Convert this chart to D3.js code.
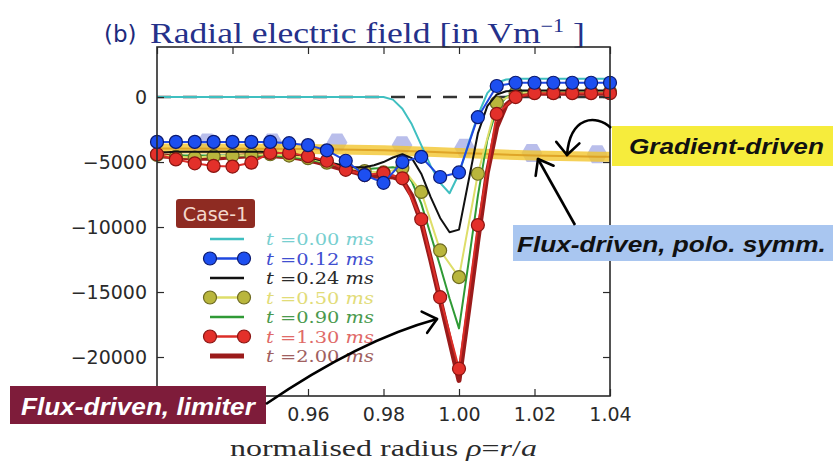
<!DOCTYPE html>
<html>
<head>
<meta charset="utf-8">
<script src="https://cdn.jsdelivr.net/npm/d3@7"></script>
<style>
  body { margin: 0; background: #fff; }
  svg { display: block; }
</style>
</head>
<body>
<svg id="chart" width="833" height="469"></svg>
<script>
// ---- radial grid (normalised radius) ----
const rhoFine = [0.92,0.9225,0.925,0.9275,0.93,0.9325,0.935,0.9375,0.94,0.9425,0.945,0.9475,0.95,0.9525,0.955,0.9575,
  0.96,0.9625,0.965,0.9675,0.97,0.9725,0.975,0.9775,0.98,0.9825,0.985,0.9875,0.99,0.9925,0.995,0.9975,
  1.00,1.0025,1.005,1.0075,1.01,1.0125,1.015,1.0175,1.02,1.0225,1.025,1.0275,1.03,1.0325,1.035,1.0375,1.04];
const rhoCoarse = [0.92,0.925,0.93,0.935,0.94,0.945,0.95,0.955,0.96,0.965,0.97,0.975,0.98,0.985,0.99,0.995,
  1.00,1.005,1.01,1.015,1.02,1.025,1.03,1.035,1.04];

// ---- radial electric field [V/m] per time slice ----
const er000 = [0,0,0,0,0,0,0,0,0,0,0,0,0,0,0,0,0,0,0,0,0,0,0,0,0,
  -200,-900,-2100,-3700,-5300,-6600,-7400,-5900,-3600,-1400,300,1100,1350,
  1400,1400,1400,1400,1400,1400,1400,1400,1400,1400,1400];
const er012 = [-3450,-3450,-3450,-3450,-3450,-3450,-3450,-3550,-3700,-4100,-4900,-6000,-6600,-5000,-4600,-6150,
  -5800,-1550,850,1100,1100,1100,1100,1100,1100];
const er024 = [-4250,-4250,-4200,-4200,-4200,-4200,-4200,-4200,-4200,-4200,-4200,-4200,-4250,-4300,-4350,
  -4450,-4600,-4800,-5000,-5150,-5300,-5400,-5400,-5250,-5000,-4650,-4400,-4700,-5900,-7700,-9300,-10400,
  -10200,-6500,-2800,-700,200,450,
  500,500,500,500,500,500,500,500,500,500,500];
const er050 = [-4450,-4600,-4650,-4550,-4500,-4450,-4400,-4500,-4700,-5050,-5350,-5700,-5800,-5450,-7300,-11800,
  -13850,-5900,-450,300,400,400,400,400,400];
const er090 = [-4600,-4550,-4500,-4500,-4500,-4500,-4500,-4500,-4500,-4500,-4500,-4500,-4500,-4550,-4600,
  -4700,-4800,-4950,-5100,-5250,-5400,-5500,-5550,-5500,-5450,-5400,-5600,-6500,-8200,-10600,-13000,-15500,
  -17800,-12800,-7600,-3300,-900,0,300,
  400,400,400,400,400,400,400,400,400,400];
const er130 = [-4400,-4800,-5100,-5300,-5350,-5050,-4300,-4300,-4550,-4900,-5600,-6000,-5850,-6250,-9400,-15400,
  -20900,-9850,-1300,0,300,300,300,300,300];
const er200 = [-4500,-4550,-4600,-4650,-4700,-4700,-4700,-4650,-4600,-4550,-4500,-4500,-4500,-4550,-4600,
  -4700,-4850,-5000,-5200,-5400,-5600,-5800,-6000,-6100,-6100,-6150,-6400,-7600,-9600,-12500,-15600,-18700,
  -21800,-16500,-11000,-5800,-2300,-600,0,200,
  300,300,300,300,300,300,300,300,300];

// gradient-driven run and poloidally symmetric flux-driven run
const rhoGradient = [0.92, 0.96, 0.98, 1.00, 1.02, 1.04];
const erGradient = [-3950, -4000, -4100, -4300, -4500, -4600];
const rhoPolo = [0.9333, 0.9505, 0.9677, 0.9849, 1.0015, 1.0193, 1.0366];
const erPolo = [-3500, -3500, -3500, -3700, -3900, -4300, -4400];

// ---- tick labels (the two leftmost sit under the limiter tag) ----
const xTicks = [0.92, 0.94, 0.96, 0.98, 1.00, 1.02, 1.04];
const xTickLabels = ["", "", "0.96", "0.98", "1.00", "1.02", "1.04"];
const yTicks = [-20000, -15000, -10000, -5000, 0];
const legendLabels = ["0.00", "0.12", "0.24", "0.50", "0.90", "1.30", "2.00"];

// ---- series styling ----
const series = [
  { label: legendLabels[0], rho: rhoFine,   er: er000, color: "#3fbfc0", width: 2,   marker: false, text: "#78cfd0" },
  { label: legendLabels[1], rho: rhoCoarse, er: er012, color: "#1f48e0", width: 2,   marker: true,  fill: "#1d4ff0", edge: "#0b1a70", text: "#3f4fd0" },
  { label: legendLabels[2], rho: rhoFine,   er: er024, color: "#111111", width: 2,   marker: false, text: "#2a2a2a" },
  { label: legendLabels[3], rho: rhoCoarse, er: er050, color: "#dede6a", width: 2,   marker: true,  fill: "#b9b63c", edge: "#6d6a20", text: "#e2dc78" },
  { label: legendLabels[4], rho: rhoFine,   er: er090, color: "#2f9a35", width: 2,   marker: false, text: "#4a9a4e" },
  { label: legendLabels[5], rho: rhoCoarse, er: er130, color: "#dc2e28", width: 2,   marker: true,  fill: "#e3302a", edge: "#8a1512", text: "#e06a68" },
  { label: legendLabels[6], rho: rhoFine,   er: er200, color: "#9b1b1b", width: 5,   marker: false, text: "#a06060" }
];

const svg = d3.select("#chart");
const pL = 157, pR = 610, pT = 47, pB = 396;

const x = d3.scaleLinear().domain([0.92, 1.04]).range([pL, pR]);
const y = d3.scaleLinear().domain([-23000, 3850]).range([pB, pT]);

const clipId = "plotClip";
svg.append("defs").append("clipPath").attr("id", clipId)
  .append("rect").attr("x", pL - 10).attr("y", pT).attr("width", pR - pL + 20).attr("height", pB - pT);

function fitWidth(sel, x0, target) {
  const w = sel.node().getComputedTextLength();
  sel.attr("transform", `translate(${x0},0) scale(${target / w},1) translate(${-x0},0)`);
}

// ---- title ----
svg.append("text").attr("x", 104).attr("y", 42)
  .attr("font-family", "DejaVu Sans, sans-serif").attr("font-size", 23).attr("fill", "#1d2a7c")
  .text("(b)");
const title = svg.append("text").attr("x", 150).attr("y", 43)
  .attr("font-family", "Liberation Serif, serif").attr("font-size", 29).attr("fill", "#25318a");
title.append("tspan").text("Radial electric field [in Vm");
title.append("tspan").attr("dy", -11).attr("font-size", 18).text("−1");
title.append("tspan").attr("dy", 11).text(" ]");
fitWidth(title, 150, 435);

// ---- zero reference line ----
const plot = svg.append("g").attr("clip-path", `url(#${clipId})`);
plot.append("line")
  .attr("x1", x(0.92)).attr("x2", x(1.04)).attr("y1", y(0)).attr("y2", y(0))
  .attr("stroke", "#333").attr("stroke-width", 2.5).attr("stroke-dasharray", "14,12");

// ---- poloidally symmetric run (hexagon markers) ----
const hex = d3.symbol().type({
  draw(ctx, size) {
    const r = Math.sqrt(size / 2.6);
    for (let k = 0; k < 6; k++) {
      const a = Math.PI / 3 * k;
      const px = r * Math.cos(a), py = r * Math.sin(a);
      if (k === 0) ctx.moveTo(px, py); else ctx.lineTo(px, py);
    }
    ctx.closePath();
  }
}).size(280);
plot.selectAll(".polo").data(rhoPolo.map((r, i) => [r, erPolo[i]])).join("path")
  .attr("transform", d => `translate(${x(d[0])},${y(d[1])})`)
  .attr("d", hex).attr("fill", "#a7aee6").attr("opacity", 0.8);

// ---- gradient-driven run ----
const gradLine = d3.line().x(d => x(d[0])).y(d => y(d[1])).curve(d3.curveMonotoneX);
const gradPts = rhoGradient.map((r, i) => [r, erGradient[i]]);
plot.append("path").attr("d", gradLine(gradPts)).attr("fill", "none")
  .attr("stroke", "#f2c52e").attr("stroke-width", 10).attr("opacity", 0.8);
plot.append("path").attr("d", gradLine(gradPts)).attr("fill", "none")
  .attr("stroke", "#d99a1c").attr("stroke-width", 2).attr("opacity", 0.8);

// ---- time slices ----
const line = d3.line().x(d => x(d[0])).y(d => y(d[1]));
const drawOrder = [6, 4, 3, 2, 5, 0, 1];
drawOrder.forEach(k => {
  const s = series[k];
  const pts = s.rho.map((r, i) => [r, s.er[i]]);
  plot.append("path").attr("d", line(pts)).attr("fill", "none")
    .attr("stroke", s.color).attr("stroke-width", s.width).attr("stroke-linejoin", "round");
  if (s.marker) {
    plot.selectAll(null).data(pts).join("circle")
      .attr("cx", d => x(d[0])).attr("cy", d => y(d[1])).attr("r", 6.5)
      .attr("fill", s.fill).attr("stroke", s.edge).attr("stroke-width", 1.2);
  }
});

// ---- frame and axes ----
svg.append("rect").attr("x", pL).attr("y", pT).attr("width", pR - pL).attr("height", pB - pT)
  .attr("fill", "none").attr("stroke", "#2a2a2a").attr("stroke-width", 1.6);

const tickFont = g => g.selectAll("text").attr("font-family", "DejaVu Sans, sans-serif")
  .attr("font-size", 19).attr("fill", "#2a2a2a");
const tickLine = g => { g.select(".domain").remove(); g.selectAll(".tick line").attr("stroke", "#2a2a2a").attr("stroke-width", 1.2); };

svg.append("g").attr("transform", `translate(0,${pB})`)
  .call(d3.axisBottom(x).tickValues(xTicks).tickFormat((d, i) => xTickLabels[i]).tickSizeInner(-7).tickSizeOuter(0).tickPadding(12))
  .call(tickLine).call(tickFont);
svg.append("g").attr("transform", `translate(0,${pT})`)
  .call(d3.axisTop(x).tickValues(xTicks).tickFormat("").tickSizeInner(-7).tickSizeOuter(0))
  .call(tickLine);
svg.append("g").attr("transform", `translate(${pL},0)`)
  .call(d3.axisLeft(y).tickValues(yTicks).tickFormat(d3.format("d")).tickSizeInner(-7).tickSizeOuter(0).tickPadding(10))
  .call(tickLine).call(tickFont);
svg.append("g").attr("transform", `translate(${pR},0)`)
  .call(d3.axisRight(y).tickValues(yTicks).tickFormat("").tickSizeInner(-7).tickSizeOuter(0))
  .call(tickLine);

// ---- axis label ----
const xlab = svg.append("text").attr("x", 230).attr("y", 456)
  .attr("font-family", "Liberation Serif, serif").attr("font-size", 23).attr("fill", "#2a2a2a");
xlab.append("tspan").text("normalised radius ");
xlab.append("tspan").attr("font-style", "italic").text("ρ");
xlab.append("tspan").text("=");
xlab.append("tspan").attr("font-style", "italic").text("r");
xlab.append("tspan").text("/");
xlab.append("tspan").attr("font-style", "italic").text("a");
fitWidth(xlab, 230, 307);

// ---- legend ----
const legend = svg.append("g");
legend.append("rect").attr("x", 176).attr("y", 199).attr("width", 79).attr("height", 29).attr("rx", 3)
  .attr("fill", "#8e2b22");
legend.append("text").attr("x", 215.5).attr("y", 221).attr("text-anchor", "middle")
  .attr("font-family", "DejaVu Sans, sans-serif").attr("font-size", 19).attr("fill", "#f3d8cc").text("Case-1");
const rowY = [239, 258.5, 278, 297.5, 317, 336.5, 356];
series.forEach((s, i) => {
  const yy = rowY[i];
  legend.append("line").attr("x1", 210).attr("x2", 244).attr("y1", yy).attr("y2", yy)
    .attr("stroke", s.color).attr("stroke-width", s.width === 5 ? 5 : 2.5);
  if (s.marker) {
    [210, 244].forEach(cx => legend.append("circle").attr("cx", cx).attr("cy", yy).attr("r", 6.5)
      .attr("fill", s.fill).attr("stroke", s.edge).attr("stroke-width", 1.2));
  }
  const t = legend.append("text").attr("x", 266).attr("y", yy + 6.5)
    .attr("font-family", "DejaVu Serif, serif").attr("font-size", 17.5).attr("fill", s.text);
  t.append("tspan").attr("font-style", "italic").text("t");
  t.append("tspan").text(" =" + s.label + " ");
  t.append("tspan").attr("font-style", "italic").text("ms");
  fitWidth(t, 266, 108);
});

// ---- annotations ----
function arrowHead(g, tip, from, len, spread) {
  const a = Math.atan2(from[1] - tip[1], from[0] - tip[0]);
  [a - spread, a + spread].forEach(b => g.append("line")
    .attr("x1", tip[0]).attr("y1", tip[1])
    .attr("x2", tip[0] + len * Math.cos(b)).attr("y2", tip[1] + len * Math.sin(b))
    .attr("stroke", "#000").attr("stroke-width", 2.6).attr("stroke-linecap", "round"));
}
const ann = svg.append("g");

function labelBox(x0, y0, w, h, fill, txt, color, tx, ty, tw, fs) {
  ann.append("rect").attr("x", x0).attr("y", y0).attr("width", w).attr("height", h).attr("fill", fill);
  const t = ann.append("text").attr("x", tx).attr("y", ty)
    .attr("font-family", "Liberation Sans, Arial, sans-serif").attr("font-weight", "bold")
    .attr("font-style", "italic").attr("font-size", fs).attr("fill", color).text(txt);
  fitWidth(t, tx, tw);
}

// gradient-driven
labelBox(612, 126, 221, 40, "#f6ec3c", "Gradient-driven", "#111", 629, 154, 195, 22);
ann.append("path").attr("d", "M611,128 C596,114 570,116 567,155")
  .attr("fill", "none").attr("stroke", "#000").attr("stroke-width", 2.6);
arrowHead(ann, [567, 155], [568, 140], 17, 0.75);

// flux-driven, poloidally symmetric
labelBox(513, 225, 320, 36, "#a9c6f0", "Flux-driven, polo. symm.", "#111", 517, 252, 309, 22);
ann.append("line").attr("x1", 575).attr("y1", 225).attr("x2", 538).attr("y2", 159)
  .attr("stroke", "#000").attr("stroke-width", 2.6);
arrowHead(ann, [538, 159], [575, 225], 17, 0.65);

// flux-driven, limiter
labelBox(10, 386, 256, 38, "#7e1c3a", "Flux-driven, limiter", "#fff", 21, 415, 234, 23);
ann.append("path").attr("d", "M266,404 Q360,340 437,319")
  .attr("fill", "none").attr("stroke", "#000").attr("stroke-width", 2.6);
arrowHead(ann, [437, 319], [410, 326], 17, 0.7);
</script>
</body>
</html>
